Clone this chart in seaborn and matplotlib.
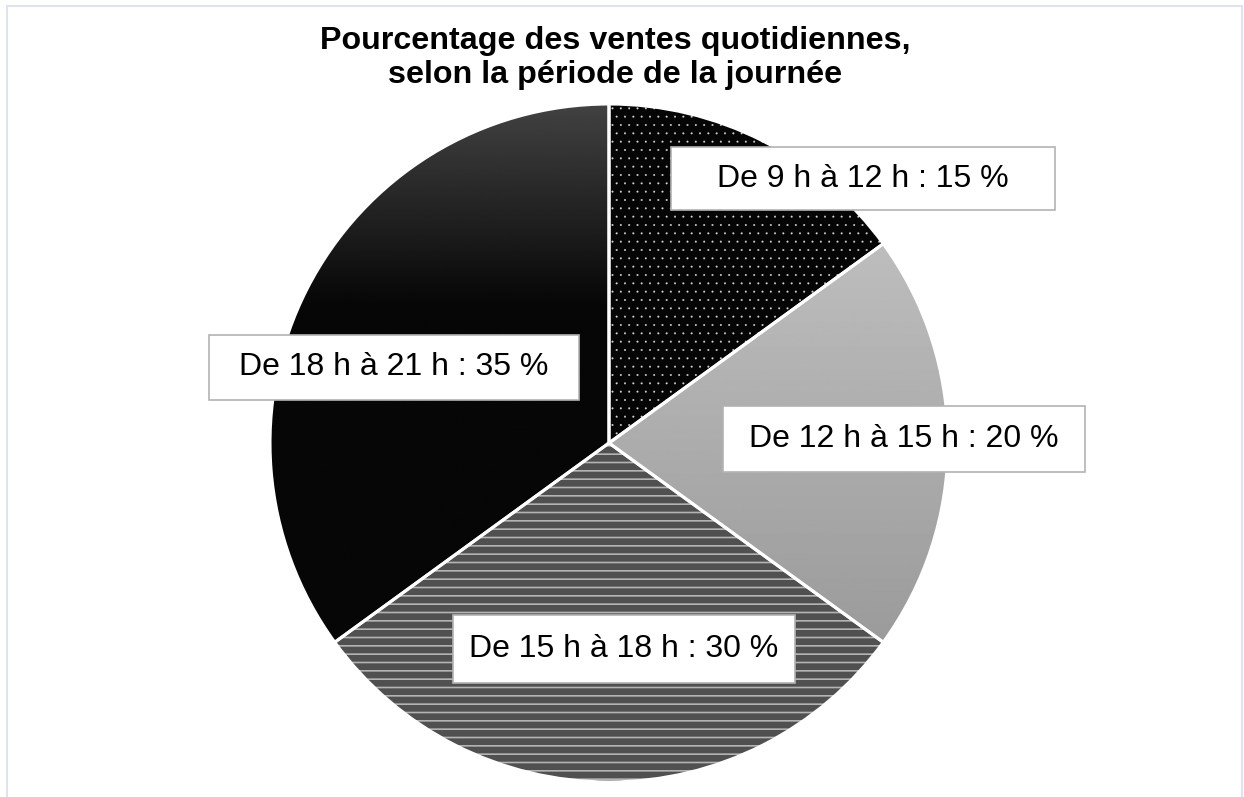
import numpy as np
import matplotlib
matplotlib.use("Agg")
from matplotlib import pyplot as plt
from matplotlib.patches import Rectangle, Wedge
import seaborn as sns

periods = ["De 9 h à 12 h", "De 12 h à 15 h", "De 15 h à 18 h", "De 18 h à 21 h"]
shares = [15, 20, 30, 35]
title_lines = ["Pourcentage des ventes quotidiennes,", "selon la période de la journée"]

# label box centres (in pie radii) and box sizes (px), set by hand like the original
label_xy = [(0.749, 0.779), (0.870, 0.012), (0.044, -0.608), (-0.634, 0.224)]
box_w = [384, 362, 342, 370]
box_h = [63, 66, 68, 65]

sns.set_theme(style="white")
plt.rcParams['font.family'] = ['Liberation Sans', 'DejaVu Sans']
plt.rcParams['hatch.linewidth'] = 1.3

fig = plt.figure(figsize=(12.44, 7.97), dpi=100)
ax = fig.add_axes([0, 0, 1, 1])

wedges, _ = ax.pie(shares, startangle=90, counterclock=False, radius=1,
                   center=(0, 0), wedgeprops=dict(linewidth=0))

# plain fills / gradients
wedges[0].set_facecolor('#050505')
wedges[1].set_facecolor('none')
wedges[2].set_facecolor('#505050')
wedges[3].set_facecolor('none')

rows = np.linspace(1, -1, 400)[:, None]
light = np.interp(rows, [-1, 1], [143, 201]) / 255
dark = np.interp(rows, [-1, 0.4, 1], [6, 6, 66]) / 255
for w, grad in [(wedges[1], light), (wedges[3], dark)]:
    im = ax.imshow(np.repeat(grad, 2, axis=1), cmap='gray', vmin=0, vmax=1,
                   extent=(-1, 1, -1, 1), aspect='auto', interpolation='bilinear', zorder=1)
    im.set_clip_path(w)

# hatch overlays
for w, hatch, hc, hlw in [(wedges[0], '..', '#d8d8d8', 0.2), (wedges[2], '--', '#b4b4b4', 1.2)]:
    with plt.rc_context({'hatch.linewidth': hlw}):
        p = Wedge((0, 0), 1, w.theta1, w.theta2, facecolor='none',
                  edgecolor=hc, lw=0, hatch=hatch, zorder=2)
    if hasattr(p, 'set_hatch_linewidth'):
        p.set_hatch_linewidth(hlw)
    ax.add_patch(p)

# white separators
for w in wedges:
    ax.add_patch(Wedge((0, 0), 1, w.theta1, w.theta2, facecolor='none',
                       edgecolor='white', lw=2.2, zorder=3))

ax.set_xlim(-609 / 339, (1244 - 609) / 339)
ax.set_ylim((443 - 797) / 339, 443 / 339)
ax.set_aspect('auto')
ax.axis('off')

texts = []
for (x, y), name, pct in zip(label_xy, periods, shares):
    t = ax.text(x, y, f"{name} : {pct} %", ha='center', va='center',
                fontsize=23, color='black', zorder=6)
    texts.append(t)

fig.canvas.draw()
inv = ax.transData.inverted()
for t, w, h in zip(texts, box_w, box_h):
    bb = t.get_window_extent()
    cx, cy = (bb.x0 + bb.x1) / 2, (bb.y0 + bb.y1) / 2
    (x0, y0), (x1, y1) = inv.transform([(cx - w / 2, cy - h / 2), (cx + w / 2, cy + h / 2)])
    ax.add_patch(Rectangle((x0, y0), x1 - x0, y1 - y0, facecolor='white',
                           edgecolor='#b3b3b3', lw=1.2, zorder=5))

for line, base in zip(title_lines, [49, 83]):
    fig.text(615 / 1244, 1 - base / 797, line, ha='center', va='baseline',
             fontsize=23.2, fontweight='bold', color='black')

fig.add_artist(Rectangle((7 / 1244, -0.01), (1242 - 7) / 1244, (797 - 6) / 797 + 0.01,
                         transform=fig.transFigure, fill=False, edgecolor='#dfe3ee', lw=1.5))

fig.savefig('out.png', dpi=100)
